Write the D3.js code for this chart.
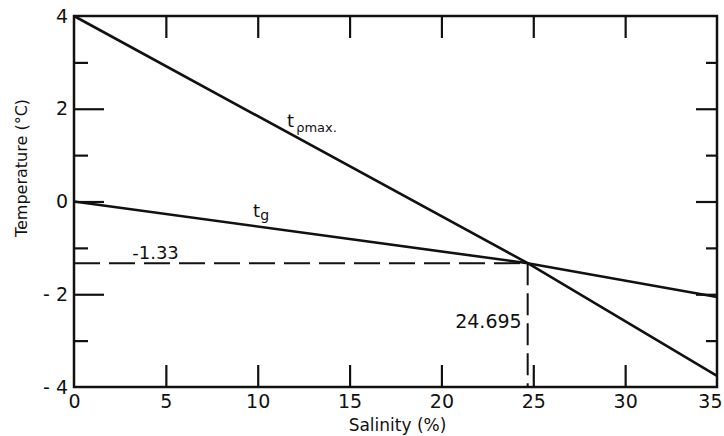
<!DOCTYPE html>
<html>
<head>
<meta charset="utf-8">
<script src="https://cdn.jsdelivr.net/npm/d3@7"></script>
<style>
  body { margin: 0; background: #fff; }
  svg { display: block; }
  text { font-family: "DejaVu Sans", sans-serif; fill: #111; }
</style>
</head>
<body>
<svg id="chart"></svg>
<script>
// values
const salinity = [0, 24.695, 35];
const tRhoMax = [4, -1.33, -3.76];   // temperature of max density
const tFreeze = [0, -1.33, -2.06];   // freezing point
const crossS = 24.695, crossT = -1.33;

const xTicks = [0, 5, 10, 15, 20, 25, 30, 35];
const yTicks = [-4, -2, 0, 2, 4];
const yMinor = [-3, -1, 1, 3];

const width = 724, height = 436;
const margin = { top: 16, right: 7, bottom: 49, left: 74 };

const svg = d3.select("#chart")
  .attr("width", width)
  .attr("height", height);

const x = d3.scaleLinear().domain([0, 35]).range([margin.left, width - margin.right]);
const y = d3.scaleLinear().domain([-4, 4]).range([height - margin.bottom, margin.top]);

const ink = "#111";

// axes, ticks pointing inward
const bottomAxis = svg.append("g")
  .attr("transform", `translate(0,${y(-4)})`)
  .call(d3.axisBottom(x).tickValues(xTicks).tickSize(-22).tickPadding(8).tickFormat(d3.format("d")));
bottomAxis.selectAll(".tick line").filter(d => d == 0 || d == 35).remove();
// last label sits tucked in under the corner
bottomAxis.selectAll(".tick text").filter(d => d == 35)
  .attr("text-anchor", "end").attr("x", 5);

svg.append("g")
  .attr("transform", `translate(0,${y(4)})`)
  .call(d3.axisTop(x).tickValues(xTicks.slice(1, -1)).tickSize(-22).tickFormat(""));

const leftAxis = svg.append("g")
  .attr("transform", `translate(${x(0)},0)`)
  .call(d3.axisLeft(y).tickValues(yTicks).tickSize(-30).tickPadding(6)
    .tickFormat(d => d < 0 ? "- " + Math.abs(d) : d));
leftAxis.selectAll(".tick line").filter(d => d == 4 || d == -4).remove();

svg.append("g")
  .attr("transform", `translate(${x(0)},0)`)
  .call(d3.axisLeft(y).tickValues(yMinor).tickSize(-14).tickFormat(""));

svg.append("g")
  .attr("transform", `translate(${x(35)},0)`)
  .call(d3.axisRight(y).tickValues(yTicks.slice(1, -1)).tickSize(-21).tickFormat(""));
svg.append("g")
  .attr("transform", `translate(${x(35)},0)`)
  .call(d3.axisRight(y).tickValues(yMinor).tickSize(-11).tickFormat(""));

svg.selectAll(".domain").remove();
svg.selectAll(".tick line").attr("stroke", ink).attr("stroke-width", 2.2);
svg.selectAll(".tick text").style("font-size", "19px").attr("fill", ink);

// frame
svg.append("rect")
  .attr("x", x(0)).attr("y", y(4))
  .attr("width", x(35) - x(0)).attr("height", y(-4) - y(4))
  .attr("fill", "none").attr("stroke", ink).attr("stroke-width", 2.5);

// lines
const line = d3.line().x(d => x(d[0])).y(d => y(d[1]));
[tRhoMax, tFreeze].forEach(series => {
  svg.append("path")
    .datum(salinity.map((s, i) => [s, series[i]]))
    .attr("d", line)
    .attr("fill", "none")
    .attr("stroke", ink)
    .attr("stroke-width", 2.6);
});

// dashed guides to the crossing point
svg.append("line")
  .attr("x1", x(0)).attr("y1", y(crossT))
  .attr("x2", x(crossS)).attr("y2", y(crossT))
  .attr("stroke", ink).attr("stroke-width", 2)
  .attr("stroke-dasharray", "26,9");
svg.append("line")
  .attr("x1", x(crossS)).attr("y1", y(crossT))
  .attr("x2", x(crossS)).attr("y2", y(-4))
  .attr("stroke", ink).attr("stroke-width", 2)
  .attr("stroke-dasharray", "22,8");

// annotations
svg.append("text")
  .attr("x", x(3.17)).attr("y", y(crossT) - 4)
  .style("font-size", "18px")
  .text("-1.33");
svg.append("text")
  .attr("x", x(crossS) - 6).attr("y", y(-2.72))
  .attr("text-anchor", "end")
  .style("font-size", "19px")
  .text("24.695");

const lblRho = svg.append("text")
  .attr("x", x(11.6)).attr("y", 127)
  .style("font-size", "18px");
lblRho.append("tspan").text("t");
lblRho.append("tspan").attr("dy", 5).attr("dx", 2).style("font-size", "13px").text("ρmax.");

const lblG = svg.append("text")
  .attr("x", x(9.75)).attr("y", 217)
  .style("font-size", "18px");
lblG.append("tspan").text("t");
lblG.append("tspan").attr("dy", 3).style("font-size", "14px").text("g");

// axis titles
svg.append("text")
  .attr("x", (x(0) + x(35)) / 2 + 2).attr("y", 431)
  .attr("text-anchor", "middle")
  .style("font-size", "17px")
  .text("Salinity (%)");

svg.append("text")
  .attr("transform", `translate(27,168) rotate(-90)`)
  .attr("text-anchor", "middle")
  .style("font-size", "16px")
  .text("Temperature (°C)");
</script>
</body>
</html>
